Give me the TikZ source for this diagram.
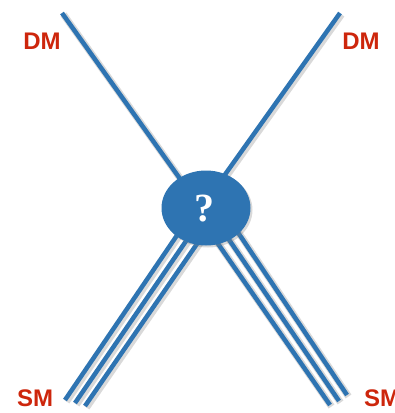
\documentclass[tikz,border=0pt]{standalone}
\usepackage{fontspec}
\setmainfont{Liberation Sans}
\newfontfamily\qfont{Liberation Serif}
\usetikzlibrary{shapes.geometric,shadows}
\pgfdeclarelayer{bg}
\pgfsetlayers{bg,main}
\definecolor{lineblue}{RGB}{46,116,178}
\definecolor{labelred}{RGB}{205,38,12}

\begin{document}
\begin{tikzpicture}[x=1pt,y=-1pt,
  leg/.style={draw=lineblue,line width=4.5pt,
    preaction={draw=black!15,line width=7pt,transform canvas={shift={(1.5pt,-1.5pt)}}}},
  lab/.style={text=labelred,font=\fontsize{24}{24}\selectfont\bfseries,inner sep=0pt}]
\useasboundingbox (0,0) rectangle (395,413);
% the vertex
\node[ellipse,fill=lineblue,minimum width=89,minimum height=75,inner sep=0pt,
  drop shadow={shadow xshift=2pt,shadow yshift=-2pt,opacity=0.3}]
  (blob) at (206,208) {};
\node[text=white,font=\qfont\fontsize{40}{40}\selectfont\bfseries] (q) at (204,209) {?};
% labels
\node[lab] (dmL) at (42,41) {DM};
\node[lab] (dmR) at (361,41) {DM};
\node[lab] (smL) at (35,398) {SM};
\node[lab] (smR) at (382,398) {SM};
% free ends
\coordinate (a) at (62,13);
\coordinate (b) at (340,13);
\coordinate (a1) at (188,190);
\coordinate (b1) at (214,190);
\coordinate (l1) at (65,400);  \coordinate (l1s) at (184,225);
\coordinate (l2) at (75,403);  \coordinate (l2s) at (197,225);
\coordinate (l3) at (85,406);  \coordinate (l3s) at (210,225);
\coordinate (r1) at (330,405); \coordinate (r1s) at (205,225);
\coordinate (r2) at (339,401); \coordinate (r2s) at (219,225);
\coordinate (r3) at (347,395); \coordinate (r3s) at (233,225);
\begin{pgfonlayer}{bg}
\draw[leg] (a) -- (a1);
\draw[leg] (b) -- (b1);
\foreach \i in {1,2,3} {
  \draw[leg] (l\i s) -- (l\i);
  \draw[leg] (r\i s) -- (r\i);
}
\end{pgfonlayer}
\end{tikzpicture}
\end{document}
